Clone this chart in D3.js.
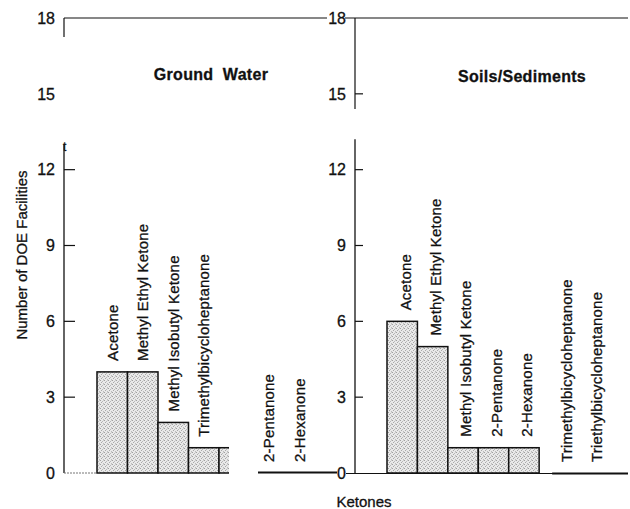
<!DOCTYPE html>
<html>
<head>
<meta charset="UTF-8">
<script src="https://d3js.org/d3.v7.min.js"></script>
<style>
  body { margin: 0; background: #fff; }
  svg { display: block; font-family: "Liberation Sans", Arial, Helvetica, sans-serif; }
  svg text { stroke: #111; stroke-width: 0.3px; }
  .tick text { font-size: 16px; }
</style>
</head>
<body>
<svg id="chart" width="630" height="509"></svg>
<script>
// ---- data ----
var yTicks = [0, 3, 6, 9, 12, 15, 18];
var gwKetones = ["Acetone", "Methyl Ethyl Ketone", "Methyl Isobutyl Ketone",
                 "Trimethylbicycloheptanone", "Triethylbicycloheptanone",
                 "2-Pentanone", "2-Hexanone"];
var gwCounts = [4, 4, 2, 1, 1, 0, 0];
var ssKetones = ["Acetone", "Methyl Ethyl Ketone", "Methyl Isobutyl Ketone",
                 "2-Pentanone", "2-Hexanone",
                 "Trimethylbicycloheptanone", "Triethylbicycloheptanone"];
var ssCounts = [6, 5, 1, 1, 1, 0, 0];

var svg = d3.select("#chart");
var ink = "#111";

var y = d3.scaleLinear().domain([0, 18]).range([473, 18]);

// stippled fill like the printed bars
var defs = svg.append("defs");
var pat = defs.append("pattern")
    .attr("id", "stip").attr("width", 4).attr("height", 4)
    .attr("patternUnits", "userSpaceOnUse");
pat.append("rect").attr("width", 4).attr("height", 4).attr("fill", "#e9e9e9");
[[0, 0, "#a0a0a0"], [2, 1, "#b8b8b8"], [1, 2, "#a8a8a8"], [3, 3, "#bcbcbc"], [3, 0, "#cfcfcf"]]
  .forEach(function (d) {
    pat.append("rect").attr("x", d[0]).attr("y", d[1]).attr("width", 1).attr("height", 1).attr("fill", d[2]);
  });

var panels = [
  { names: gwKetones, counts: gwCounts, title: "Ground  Water",
    axisX: 64, x0: 97, x1: 310.5, brk: [13.0, 17.25], tickVals: [3, 6, 9, 12], tickLen: 11,
    titleX: 211, titleY: 80, labelShift: 0, shiftFrom: 5, shift: 4, cut: 4, lineEnd: 327 },
  { names: ssKetones, counts: ssCounts, title: "Soils/Sediments",
    axisX: 355, x0: 387, x1: 600, brk: [13.2, 14.4], tickVals: [3, 6, 9, 12, 15], tickLen: 8,
    titleX: 522, titleY: 82, labelShift: 3, shiftFrom: 5, shift: 9, cut: -1, lineEnd: 628 }
];

panels.forEach(function (p, k) {
  var g = svg.append("g");
  var x = d3.scaleBand().domain(p.names).range([p.x0, p.x1]).padding(0);
  var bw = x.bandwidth();

  // clip for the pasted-up gap in the ground water panel
  var clipId = "clip" + k;
  var cp = defs.append("clipPath").attr("id", clipId);
  if (p.cut >= 0) {
    var cutA = x(p.names[p.cut]) + 10, cutB = x(p.names[p.cut + 1]) + 8.5;
    cp.append("rect").attr("x", 0).attr("y", 0).attr("width", cutA).attr("height", 509);
    cp.append("rect").attr("x", cutB).attr("y", 0).attr("width", 630 - cutB).attr("height", 509);
    p.cutB = cutB;
  } else {
    cp.append("rect").attr("x", 0).attr("y", 0).attr("width", 630).attr("height", 509);
  }

  // y axis, broken
  g.append("line").attr("x1", p.axisX).attr("x2", p.axisX)
    .attr("y1", y(18)).attr("y2", y(p.brk[1]))
    .attr("stroke", ink).attr("stroke-width", 1.2);
  g.append("line").attr("x1", p.axisX).attr("x2", p.axisX)
    .attr("y1", y(p.brk[0])).attr("y2", y(0))
    .attr("stroke", ink).attr("stroke-width", 1.3);

  // ticks pointing inward
  g.selectAll(".tk").data(p.tickVals).enter().append("line")
    .attr("x1", p.axisX).attr("x2", p.axisX + p.tickLen)
    .attr("y1", function (d) { return y(d); }).attr("y2", function (d) { return y(d); })
    .attr("stroke", ink).attr("stroke-width", 1.2);

  var tl = g.append("g").attr("class", "tick");
  tl.selectAll("text").data(yTicks).enter().append("text")
    .attr("x", p.axisX - 9).attr("y", function (d) { return y(d); })
    .attr("dy", "0.36em").attr("text-anchor", "end").attr("fill", ink)
    .text(function (d) { return d; });

  // title
  g.append("text").attr("x", p.titleX).attr("y", p.titleY)
    .attr("text-anchor", "middle").attr("font-weight", "bold")
    .attr("font-size", 16).attr("letter-spacing", "0.3px").attr("fill", ink)
    .style("white-space", "pre")
    .text(p.title);

  // bars
  var bars = g.append("g").attr("clip-path", "url(#" + clipId + ")");
  var rows = p.names.map(function (n, i) { return { name: n, v: p.counts[i], i: i }; });

  bars.selectAll("rect").data(rows.filter(function (d) { return d.v > 0; }))
    .enter().append("rect")
    .attr("x", function (d) { return x(d.name); })
    .attr("y", function (d) { return y(d.v); })
    .attr("width", bw)
    .attr("height", function (d) { return y(0) - y(d.v); })
    .attr("fill", "url(#stip)").attr("stroke", ink).attr("stroke-width", 1.5);

  // rotated labels above each bar (the cut-off bar lost its label)
  bars.selectAll("text").data(rows.filter(function (d) { return d.i !== p.cut; }))
    .enter().append("text")
    .attr("transform", function (d) {
      var cx = x(d.name) + bw / 2 + p.labelShift + (d.i >= p.shiftFrom ? p.shift : 0);
      return "translate(" + cx + "," + (y(d.v) - 11) + ") rotate(-90)";
    })
    .attr("dy", "0.36em")
    .attr("font-size", 15).attr("letter-spacing", "0.2px").attr("fill", ink)
    .text(function (d) { return d.name; });

  // baseline pieces
  if (p.cut >= 0) {
    g.append("line").attr("x1", p.axisX).attr("x2", p.x0)
      .attr("y1", y(0)).attr("y2", y(0))
      .attr("stroke", "#777").attr("stroke-width", 1).attr("stroke-dasharray", "2,1");
    g.append("line").attr("x1", p.cutB).attr("x2", 337)
      .attr("y1", y(0) - 0.5).attr("y2", y(0) - 0.5)
      .attr("stroke", ink).attr("stroke-width", 2);
  } else {
    g.append("line").attr("x1", p.axisX - 9).attr("x2", p.lineEnd)
      .attr("y1", y(0) + 0.5).attr("y2", y(0) + 0.5)
      .attr("stroke", ink).attr("stroke-width", 1.2);
    var z = rows.filter(function (d) { return d.v === 0; });
    g.append("line")
      .attr("x1", x(z[0].name) + 13).attr("x2", p.lineEnd)
      .attr("y1", y(0) + 0.5).attr("y2", y(0) + 0.5)
      .attr("stroke", ink).attr("stroke-width", 1.8);
  }
});

// top frame line, interrupted by the middle "18"
svg.append("line").attr("x1", 64).attr("x2", 327).attr("y1", y(18)).attr("y2", y(18))
  .attr("stroke", ink).attr("stroke-width", 1.2);
svg.append("line").attr("x1", 345).attr("x2", 628).attr("y1", y(18)).attr("y2", y(18))
  .attr("stroke", ink).attr("stroke-width", 1.2);

// broken-axis mark on the left panel
svg.append("text").attr("x", 63).attr("y", y(12.75)).attr("font-size", 12)
  .attr("fill", ink).text("t");

// axis titles
svg.append("text")
  .attr("transform", "translate(27,255) rotate(-90)")
  .attr("text-anchor", "middle").attr("font-size", 15)
  .attr("fill", ink).text("Number of DOE Facilities");

svg.append("text").attr("x", 364).attr("y", 507)
  .attr("text-anchor", "middle").attr("font-size", 15)
  .attr("fill", ink).text("Ketones");
</script>
</body>
</html>
